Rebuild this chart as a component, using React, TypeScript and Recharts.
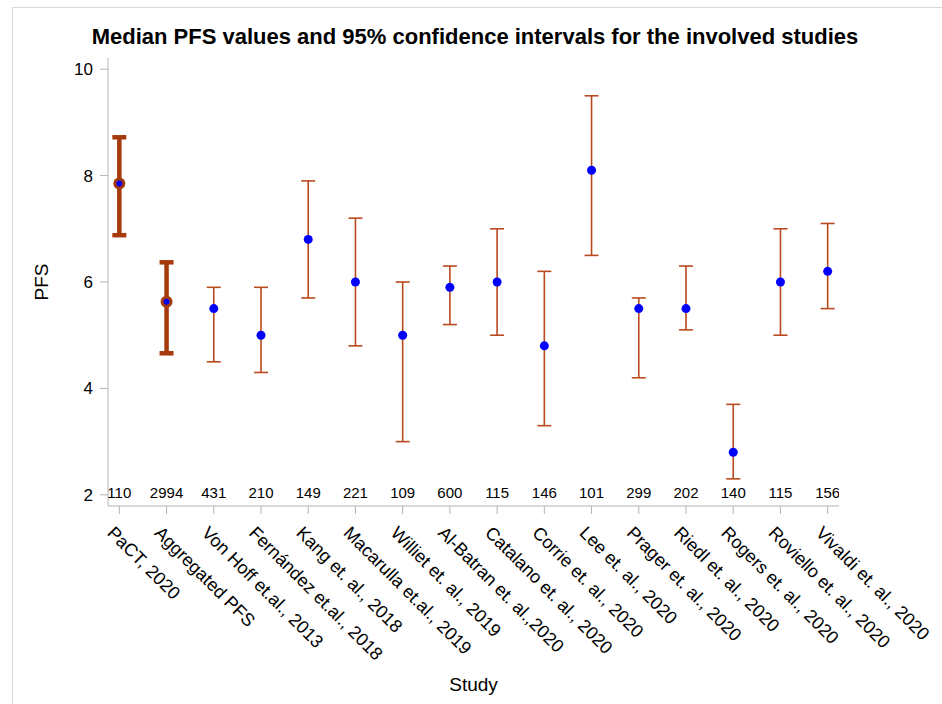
import { ComposedChart, Scatter, ErrorBar, XAxis, YAxis } from 'recharts';

const studies = [
  'PaCT, 2020',
  'Aggregated PFS',
  'Von Hoff et.al., 2013',
  'Fernández et.al., 2018',
  'Kang et. al., 2018',
  'Macarulla et.al., 2019',
  'Williet et. al., 2019',
  'Al-Batran et. al.,2020',
  'Catalano et. al., 2020',
  'Corrie et. al., 2020',
  'Lee et. al., 2020',
  'Prager et. al., 2020',
  'Riedl et. al., 2020',
  'Rogers et. al., 2020',
  'Roviello et. al., 2020',
  'Vivaldi et. al., 2020',
];
const medians = [7.85, 5.63, 5.5, 5.0, 6.8, 6.0, 5.0, 5.9, 6.0, 4.8, 8.1, 5.5, 5.5, 2.8, 6.0, 6.2];
const lowerCI = [6.88, 4.66, 4.5, 4.3, 5.7, 4.8, 3.0, 5.2, 5.0, 3.3, 6.5, 4.2, 5.1, 2.3, 5.0, 5.5];
const upperCI = [8.72, 6.37, 5.9, 5.9, 7.9, 7.2, 6.0, 6.3, 7.0, 6.2, 9.5, 5.7, 6.3, 3.7, 7.0, 7.1];
const sampleSizes = [110, 2994, 431, 210, 149, 221, 109, 600, 115, 146, 101, 299, 202, 140, 115, 156];
const yTicks = [2, 4, 6, 8, 10];
const highlighted = 2; // PaCT + aggregated drawn thick

const DARK = '#A63A0C';
const THIN = '#B84A1E';
const BLUE = '#0000FF';
const GRAY = '#B4B4B4';
const FONT = '"Liberation Sans", Arial, sans-serif';

const rows = studies.map((name, i) => ({
  x: i,
  name,
  y: medians[i],
  err: [medians[i] - lowerCI[i], upperCI[i] - medians[i]],
  n: sampleSizes[i],
  ny: 2.05,
}));
const thickRows = rows.slice(0, highlighted);
const thinRows = rows.slice(highlighted);

const ThickDot = (p: any) => (
  <g>
    <circle cx={p.cx} cy={p.cy} r={6} fill={DARK} />
    <circle cx={p.cx} cy={p.cy} r={3} fill={BLUE} />
  </g>
);

const ThinDot = (p: any) => <circle cx={p.cx} cy={p.cy} r={4.5} fill={BLUE} />;

const CountLabel = (p: any) => (
  <text x={p.cx} y={p.cy} textAnchor="middle" dominantBaseline="central" fontSize={15} fill="#000">
    {p.payload.n}
  </text>
);

const StudyTick = (p: any) => {
  const { x, y, payload } = p;
  return (
    <text
      transform={`translate(${x - 13},${y + 18}) rotate(45)`}
      textAnchor="start"
      fontSize={18}
      fill="#000"
    >
      {studies[payload.value]}
    </text>
  );
};

export default function App() {
  return (
    <div style={{ position: 'absolute', left: 0, top: 0, width: 942, height: 704, overflow: 'hidden', background: '#fff', fontFamily: FONT }}>
      {/* outer frame, only top/left edges visible */}
      <div style={{ position: 'absolute', left: 12, top: 7, width: 1000, height: 800, borderTop: '1px solid #D9D9D9', borderLeft: '1px solid #D9D9D9' }} />
      <div style={{ position: 'absolute', left: 4, top: 24, width: 942, textAlign: 'center', fontSize: 22, fontWeight: 'bold', lineHeight: '25px', color: '#000' }}>
        Median PFS values and 95% confidence intervals for the involved studies
      </div>
      <ComposedChart
        width={942}
        height={704}
        margin={{ top: 58, right: 103, bottom: 8, left: 48 }}
        style={{ position: 'absolute', left: 0, top: 0, fontFamily: FONT }}
      >
        <XAxis
          dataKey="x"
          type="number"
          domain={[-0.24, 15.24]}
          ticks={studies.map((_, i) => i)}
          interval={0}
          height={190}
          tickSize={8}
          tickLine={{ stroke: GRAY }}
          axisLine={{ stroke: GRAY }}
          tick={<StudyTick />}
          allowDataOverflow
          label={{
            value: 'Study',
            content: ({ viewBox }: any) => (
              <text x={viewBox.x + viewBox.width / 2} y={viewBox.y + viewBox.height - 5} textAnchor="middle" fontSize={19} fill="#000">
                Study
              </text>
            ),
          }}
        />
        <XAxis xAxisId="top" orientation="top" type="number" domain={[0, 1]} height={0} tick={false} tickLine={false} axisLine={{ stroke: GRAY }} />
        <YAxis
          type="number"
          domain={[1.79, 10.21]}
          ticks={yTicks}
          width={60}
          tickSize={8}
          tickMargin={7}
          tickLine={{ stroke: GRAY }}
          axisLine={{ stroke: GRAY }}
          tick={{ fontSize: 17, fill: '#000' }}
          allowDataOverflow
          label={{
            value: 'PFS',
            content: ({ viewBox }: any) => (
              <text
                transform={`translate(${viewBox.x},${viewBox.y + viewBox.height / 2}) rotate(-90)`}
                textAnchor="middle"
                fontSize={19}
                fill="#000"
              >
                PFS
              </text>
            ),
          }}
        />
        <YAxis yAxisId="right" orientation="right" type="number" domain={[0, 1]} width={0} tick={false} tickLine={false} axisLine={{ stroke: GRAY }} />

        <Scatter data={thinRows} dataKey="y" shape={<ThinDot />} isAnimationActive={false}>
          <ErrorBar dataKey="err" direction="y" width={7} stroke={THIN} strokeWidth={1.6} />
        </Scatter>
        <Scatter data={thickRows} dataKey="y" shape={<ThickDot />} isAnimationActive={false}>
          <ErrorBar dataKey="err" direction="y" width={7} stroke={DARK} strokeWidth={4.5} />
        </Scatter>
        <Scatter data={rows} dataKey="ny" shape={<CountLabel />} isAnimationActive={false} />
      </ComposedChart>
    </div>
  );
}
